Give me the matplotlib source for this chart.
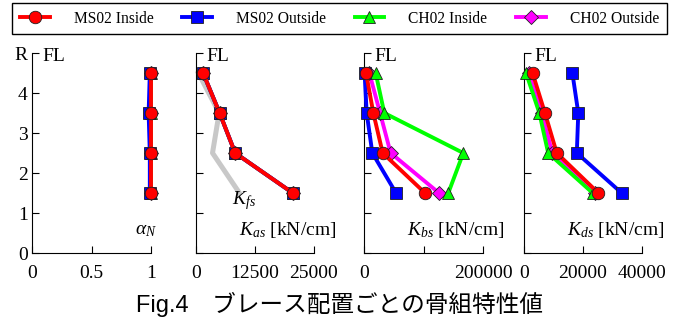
import matplotlib
matplotlib.use('Agg')
import matplotlib.pyplot as plt

plt.rcParams['font.family'] = ['Liberation Serif', 'DejaVu Serif']
plt.rcParams['mathtext.fontset'] = 'custom'
plt.rcParams['mathtext.rm'] = 'Liberation Serif'
plt.rcParams['mathtext.it'] = 'Liberation Serif:italic'
plt.rcParams['font.size'] = 14

floors = [4.5, 3.5, 2.5, 1.5]
series_names = ['MS02 Inside', 'MS02 Outside', 'CH02 Inside', 'CH02 Outside']

alpha_n = {
    'MS02 Inside': [1.0, 1.0, 1.0, 1.0],
    'MS02 Outside': [0.99, 0.98, 0.99, 0.99],
    'CH02 Inside': [1.0, 1.0, 1.0, 1.0],
    'CH02 Outside': [1.0, 1.0, 1.0, 1.0],
}
k_as = {
    'MS02 Inside': [1500, 5000, 8300, 20500],
    'MS02 Outside': [1500, 5000, 8300, 20500],
    'CH02 Inside': [1500, 5000, 8300, 20500],
    'CH02 Outside': [1500, 5000, 8300, 20500],
}
k_fs = [500, 4900, 3500, 9200]
k_bs = {
    'MS02 Inside': [3400, 15700, 31400, 102500],
    'MS02 Outside': [1000, 4500, 14000, 53800],
    'CH02 Inside': [19600, 34100, 166900, 141700],
    'CH02 Outside': [9000, 27000, 44800, 126000],
}
k_ds = {
    'MS02 Inside': [2900, 7100, 11100, 25200],
    'MS02 Outside': [16400, 18400, 17900, 33100],
    'CH02 Inside': [700, 5200, 8200, 23300],
    'CH02 Outside': [1600, 6000, 9600, 24200],
}

styles = {
    'MS02 Inside': dict(color='#ff0000', marker='o', zorder=5),
    'MS02 Outside': dict(color='#0000ff', marker='s', zorder=4),
    'CH02 Inside': dict(color='#00ff00', marker='^', zorder=3),
    'CH02 Outside': dict(color='#ff00ff', marker='D', zorder=2),
}

fig = plt.figure(figsize=(6.83, 3.22), dpi=100)
W, H = 683.0, 322.0
bottom = (H - 253) / H
height = 200 / H
lefts = [32, 196, 364, 524]
widths = [119, 118, 119, 118]

panels = [
    (alpha_n, (0, 1), [0, 0.5, 1], ['0', '0.5', '1'], r'$\alpha_N$', 1.05),
    (k_as, (0, 25000), [0, 12500, 25000], ['0', '12500', '25000'], r'$K_{as}$ [kN/cm]', 1.19),
    (k_bs, (0, 200000), [0, 100000, 200000], ['0', '', '200000'], r'$K_{bs}$ [kN/cm]', 1.18),
    (k_ds, (0, 40000), [0, 20000, 40000], ['0', '20000', '40000'], r'$K_{ds}$ [kN/cm]', 1.19),
]

for i, (data, xlim, xt, xtl, label, lx) in enumerate(panels):
    ax = fig.add_axes([lefts[i] / W, bottom, widths[i] / W, height])
    for name in reversed(series_names):
        st = styles[name]
        ms = 9 if st['marker'] != 'D' else 7.5
        ax.plot(data[name], floors, color=st['color'], lw=2.8, marker=st['marker'],
                ms=ms, mfc=st['color'], mec='#202020', mew=0.6,
                zorder=st['zorder'], clip_on=False, label=name)
    if i == 1:
        ax.plot(k_fs, floors, color='#c8c8c8', lw=3.6, zorder=1, clip_on=False)
        ax.text(0.305, 1.32, r'$K_{fs}$', transform=ax.get_yaxis_transform(),
                ha='left', va='center')
    ax.set_xlim(*xlim)
    ax.set_ylim(0, 5)
    ax.set_xticks(xt)
    ax.set_xticklabels(xtl)
    ax.set_yticks([0, 1, 2, 3, 4, 5])
    if i == 0:
        ax.set_yticklabels(['0', '1', '2', '3', '4', 'R'])
    else:
        ax.set_yticklabels([])
    ax.tick_params(direction='in', length=5, width=0.8, labelsize=14)
    ax.tick_params(axis='x', pad=9)
    ax.tick_params(axis='y', pad=3)
    for s in ['top', 'right']:
        ax.spines[s].set_visible(False)
    ax.patch.set_visible(False)
    ax.text(0.09, 4.92, 'FL', transform=ax.get_yaxis_transform(),
            ha='left', va='center')
    ax.text(lx, 0.57, label, transform=ax.get_yaxis_transform(),
            ha='right', va='center')
    if i == 0:
        handles, labels = ax.get_legend_handles_labels()

order = [labels.index(n) for n in series_names]
fig.legend([handles[k] for k in order], [labels[k] for k in order],
           loc='upper center', bbox_to_anchor=(0.497, 0.991), ncol=4,
           fancybox=False, edgecolor='black', framealpha=1, fontsize=11.2,
           handlelength=1.9, handletextpad=1.55, columnspacing=1.85,
           borderpad=0.5, borderaxespad=0)

fig.text(0.497, 0.055, 'Fig.4\u3000ブレース配置ごとの骨組特性値',
         ha='center', va='center', fontsize=17,
         family=['Liberation Sans', 'Noto Sans CJK JP'])

fig.savefig('out.png', dpi=100)
